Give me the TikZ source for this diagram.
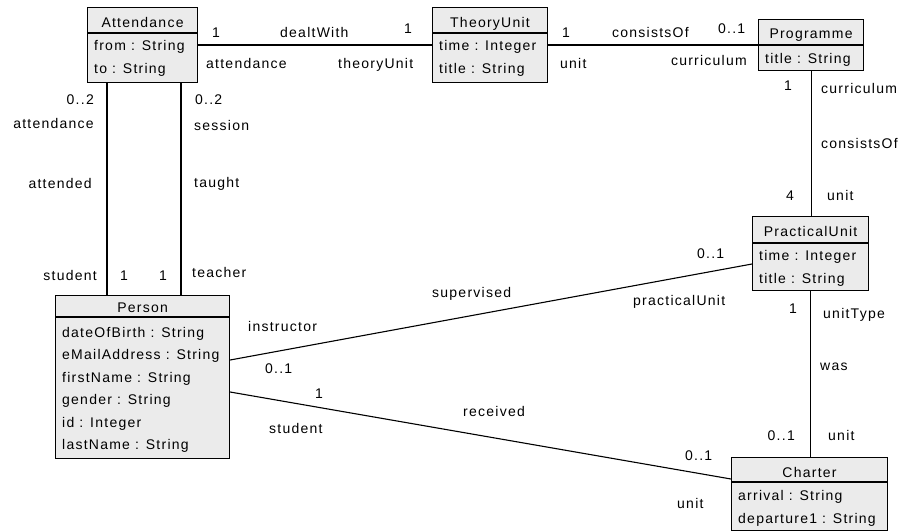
\documentclass[tikz,border=0pt]{standalone}
\usepackage{fontspec}
\setmainfont{Liberation Sans}[LetterSpace=8.9]
\definecolor{boxgray}{HTML}{EBEBEB}
\begin{document}
\begin{tikzpicture}[x=1pt,y=-1pt,
  every node/.style={font=\fontsize{14}{16}\selectfont, inner sep=0pt},
  cls/.style={draw, fill=boxgray, line width=1.1pt, anchor=north west, inner sep=0pt},
  assoc/.style={line width=1.1pt},
  sep/.style={line width=1.1pt},
  ttl/.style={anchor=base},
  attr/.style={anchor=base west},
  lw/.style={anchor=base west},
  le/.style={anchor=base east},
  lc/.style={anchor=base}
]
\useasboundingbox (0,0) rectangle (906,531);

% ---------- classes ----------
% Attendance
\node[cls, minimum width=110pt, minimum height=75pt] (att) at (87,7) {};
\draw[sep] (att.west |- 0,33) -- (att.east |- 0,33);
\node[ttl]  (attT) at (att.north |- 0,27) {Attendance};
\node[attr] (attA1) at ([xshift=7pt]att.west |- 0,50) {from : String};
\node[attr] (attA2) at ([xshift=7pt]att.west |- 0,73) {to : String};

% TheoryUnit
\node[cls, minimum width=115pt, minimum height=75pt] (thy) at (432,7) {};
\draw[sep] (thy.west |- 0,33) -- (thy.east |- 0,33);
\node[ttl]  (thyT) at (thy.north |- 0,27) {TheoryUnit};
\node[attr] (thyA1) at ([xshift=7pt]thy.west |- 0,50) {time : Integer};
\node[attr] (thyA2) at ([xshift=7pt]thy.west |- 0,73) {title : String};

% Programme
\node[cls, minimum width=105pt, minimum height=51pt] (prg) at (758,19) {};
\draw[sep] (prg.west |- 0,45) -- (prg.east |- 0,45);
\node[ttl]  (prgT) at (prg.north |- 0,38) {Programme};
\node[attr] (prgA1) at ([xshift=7pt]prg.west |- 0,63) {title : String};

% PracticalUnit
\node[cls, minimum width=116pt, minimum height=74pt] (pu) at (752,216) {};
\draw[sep] (pu.west |- 0,243) -- (pu.east |- 0,243);
\node[ttl]  (puT) at (pu.north |- 0,236) {PracticalUnit};
\node[attr] (puA1) at ([xshift=7pt]pu.west |- 0,260) {time : Integer};
\node[attr] (puA2) at ([xshift=7pt]pu.west |- 0,283) {title : String};

% Charter
\node[cls, minimum width=156pt, minimum height=73pt] (chr) at (731,457) {};
\draw[sep] (chr.west |- 0,482) -- (chr.east |- 0,482);
\node[ttl]  (chrT) at (chr.north |- 0,477) {Charter};
\node[attr] (chrA1) at ([xshift=7pt]chr.west |- 0,500) {arrival : String};
\node[attr] (chrA2) at ([xshift=7pt]chr.west |- 0,523) {departure1 : String};

% Person
\node[cls, minimum width=174pt, minimum height=163pt] (per) at (55,295) {};
\draw[sep] (per.west |- 0,317) -- (per.east |- 0,317);
\node[ttl]  (perT) at (per.north |- 0,312) {Person};
\node[attr] (perA1) at ([xshift=7pt]per.west |- 0,337) {dateOfBirth : String};
\node[attr] (perA2) at ([xshift=7pt]per.west |- 0,359) {eMailAddress : String};
\node[attr] (perA3) at ([xshift=7pt]per.west |- 0,382) {firstName : String};
\node[attr] (perA4) at ([xshift=7pt]per.west |- 0,404) {gender : String};
\node[attr] (perA5) at ([xshift=7pt]per.west |- 0,427) {id : Integer};
\node[attr] (perA6) at ([xshift=7pt]per.west |- 0,449) {lastName : String};

% ---------- associations ----------
\draw[assoc] (att.east |- 0,45) -- (thy.west |- 0,45);
\draw[assoc] (thy.east |- 0,45) -- (prg.west |- 0,45);
\draw[assoc] (prg.south) -- (prg.south |- pu.north);
\draw[assoc] (pu.south) -- (pu.south |- chr.north);
\draw[assoc] (att.south -| 107,0) -- (per.north -| 107,0);
\draw[assoc] (att.south -| 181,0) -- (per.north -| 181,0);
\draw[assoc] (per.east |- 0,360) -- (pu.west |- 0,264);
\draw[assoc] (per.east |- 0,392) -- (chr.west |- 0,479);

% ---------- role names and multiplicities ----------
% Attendance -- TheoryUnit
\node[lc] (l1)  at (216,37) {1};
\node[lw] (l2)  at (280,37) {dealtWith};
\node[lc] (l3)  at (408,33) {1};
\node[lw] (l4)  at (206,68) {attendance};
\node[lw] (l5)  at (338,68) {theoryUnit};
% TheoryUnit -- Programme
\node[lc] (l6)  at (566,37) {1};
\node[lw] (l7)  at (612,37) {consistsOf};
\node[lw] (l8)  at (718,33) {0..1};
\node[lw] (l9)  at (560,68) {unit};
\node[le] (l10) at (747,65) {curriculum};
% Programme -- PracticalUnit
\node[lc] (l11) at (788,90) {1};
\node[lw] (l12) at (821,93) {curriculum};
\node[lw] (l13) at (821,148) {consistsOf};
\node[lc] (l14) at (790,200) {4};
\node[lw] (l15) at (827,200) {unit};
% PracticalUnit -- Charter
\node[lc] (l16) at (793,313) {1};
\node[lw] (l17) at (823,318) {unitType};
\node[lw] (l18) at (820,370) {was};
\node[le] (l19) at (795,440) {0..1};
\node[lw] (l20) at (828,440) {unit};
% Attendance -- Person
\node[le] (l21) at (94,104) {0..2};
\node[le] (l22) at (94,128) {attendance};
\node[le] (l23) at (92,188) {attended};
\node[le] (l24) at (97,280) {student};
\node[lc] (l25) at (124,280) {1};
\node[lc] (l26) at (163,280) {1};
\node[lw] (l27) at (195,104) {0..2};
\node[lw] (l28) at (194,130) {session};
\node[lw] (l29) at (194,187) {taught};
\node[lw] (l30) at (192,277) {teacher};
% Person -- PracticalUnit
\node[lw] (l31) at (432,297) {supervised};
\node[lw] (l32) at (248,331) {instructor};
\node[lw] (l33) at (265,373) {0..1};
\node[lw] (l34) at (697,258) {0..1};
\node[lw] (l35) at (633,305) {practicalUnit};
% Person -- Charter
\node[lc] (l36) at (319,398) {1};
\node[lw] (l37) at (463,416) {received};
\node[lw] (l38) at (269,433) {student};
\node[lw] (l39) at (685,460) {0..1};
\node[lw] (l40) at (677,508) {unit};
\end{tikzpicture}
\end{document}
